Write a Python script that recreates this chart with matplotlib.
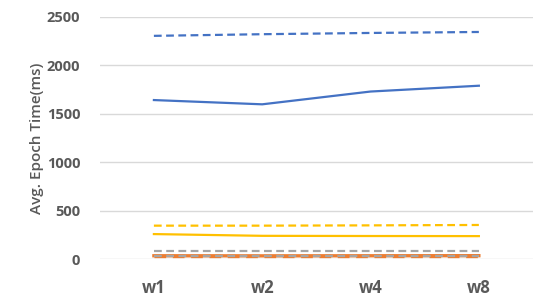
import matplotlib.pyplot as plt

workers = ['w1', 'w2', 'w4', 'w8']
blue_dash = [2305, 2322, 2335, 2345]
blue_solid = [1642, 1598, 1730, 1790]
yellow_dash = [345, 345, 348, 352]
yellow_solid = [258, 240, 238, 237]
gray_dash = [88, 88, 88, 88]
gray_solid = [32, 32, 32, 32]
orange_solid = [34, 33, 34, 35]
orange_dash = [27, 27, 27, 27]

plt.rcParams['font.family'] = ['Open Sans', 'DejaVu Sans']
fig = plt.figure(figsize=(5.45, 3.03), dpi=100)
ax = fig.add_axes([0.183, 0.145, 0.795, 0.799])

x = range(len(workers))
ax.plot(x, blue_dash, color='#4472C4', lw=1.6, ls=(0, (3.5, 2)))
ax.plot(x, blue_solid, color='#4472C4', lw=1.6)
ax.plot(x, yellow_dash, color='#FFC000', lw=1.6, ls=(0, (3.5, 2)))
ax.plot(x, yellow_solid, color='#FFC000', lw=1.6)
ax.plot(x, gray_dash, color='#A5A5A5', lw=1.6, ls=(0, (3.5, 2)))
ax.plot(x, orange_solid, color='#ED7D31', lw=2.4)
ax.plot(x, orange_dash, color='#ED7D31', lw=2.4, ls=(0, (3.5, 2)))
ax.plot(x, gray_solid, color='#A5A5A5', lw=1.6, ls=(0, (3.5, 2)))

ax.set_xlim(-0.5, 3.5)
ax.set_ylim(0, 2500)
ax.set_yticks([0, 500, 1000, 1500, 2000, 2500])
ax.set_xticks(list(x))
ax.set_xticklabels(workers)
ax.grid(axis='y', color='#D9D9D9', lw=1)
ax.set_axisbelow(True)
for s in ax.spines.values():
    s.set_visible(False)
ax.tick_params(length=0, colors='#595959')
for lab in ax.get_yticklabels():
    lab.set_fontsize(10.5)
    lab.set_fontweight('bold')
for lab in ax.get_xticklabels():
    lab.set_fontsize(12)
    lab.set_fontweight('bold')
ax.tick_params(axis='y', pad=14)
ax.tick_params(axis='x', pad=14)
ax.set_ylabel('Avg. Epoch Time(ms)', fontsize=11, color='#595959',
              fontweight='semibold', labelpad=2)

fig.savefig('out.png', dpi=100)
